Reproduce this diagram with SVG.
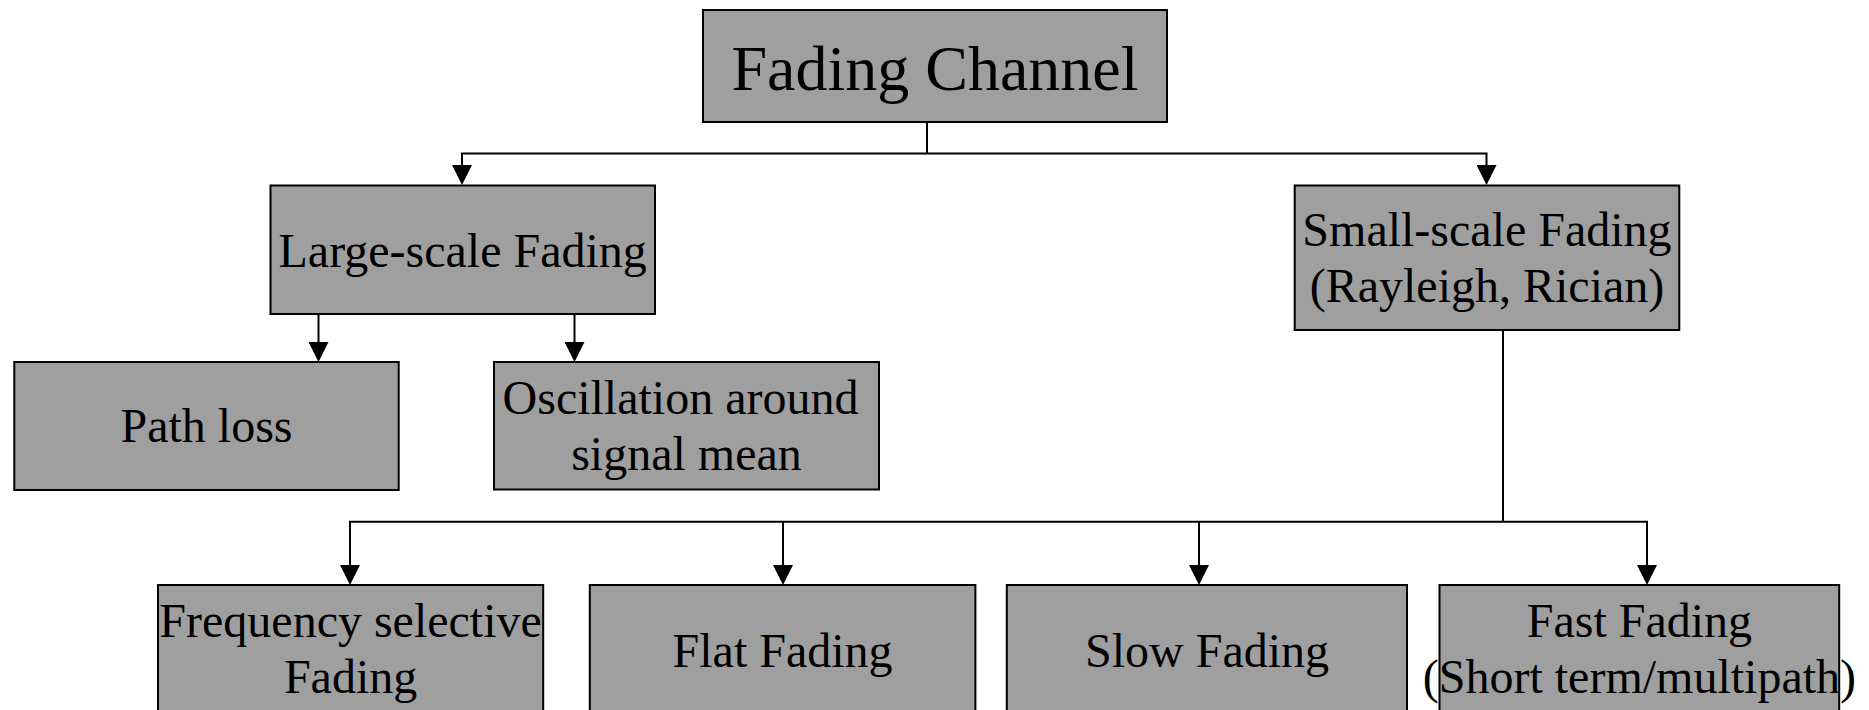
<svg xmlns="http://www.w3.org/2000/svg" width="1869" height="710" viewBox="0 0 1869 710">
  <style>
    .box { fill: #9f9f9f; stroke: #000; stroke-width: 2; }
    .lbl { font-family: "Liberation Serif", "Times New Roman", serif; font-size: 48px; fill: #000; text-anchor: middle; }
    .title { font-size: 64px; }
    .wire { fill: none; stroke: #000; stroke-width: 2; }
  </style>
  <defs>
    <marker id="arrow" viewBox="0 0 20 20" markerWidth="20" markerHeight="20" markerUnits="userSpaceOnUse" refX="0" refY="10" orient="auto">
      <path d="M0,0 L20,10 L0,20 Z" fill="#000"/>
    </marker>
  </defs>
  <rect width="1869" height="710" fill="#fff"/>

  <g id="connectors" class="wire">
    <!-- root to the two fading scales -->
    <path d="M927,122 V153.5"/>
    <path d="M927,153.5 H462 V165" marker-end="url(#arrow)"/>
    <path d="M927,153.5 H1486.5 V165" marker-end="url(#arrow)"/>
    <!-- large-scale branches -->
    <path d="M318.5,314 V342" marker-end="url(#arrow)"/>
    <path d="M574.5,314 V342" marker-end="url(#arrow)"/>
    <!-- small-scale bus -->
    <path d="M1503,330 V521.7"/>
    <path d="M350,565 V521.7 H1647 V565" marker-end="url(#arrow)"/>
    <path d="M350,521.7 V565" marker-end="url(#arrow)"/>
    <path d="M783,521.7 V565" marker-end="url(#arrow)"/>
    <path d="M1199,521.7 V565" marker-end="url(#arrow)"/>
  </g>

  <g id="fading-channel">
    <rect class="box" x="703" y="10" width="464" height="112"/>
    <text class="lbl title" x="935" y="90">Fading Channel</text>
  </g>

  <g id="large-scale">
    <rect class="box" x="270.5" y="185.5" width="384.5" height="128.5"/>
    <text class="lbl" x="462.7" y="266.7">Large-scale Fading</text>
  </g>

  <g id="small-scale">
    <rect class="box" x="1294.7" y="185.5" width="384.6" height="144.5"/>
    <text class="lbl" x="1487" y="246">Small-scale Fading</text>
    <text class="lbl" x="1487" y="302">(Rayleigh, Rician)</text>
  </g>

  <g id="path-loss">
    <rect class="box" x="14.3" y="362" width="384.4" height="128"/>
    <text class="lbl" x="206.5" y="441.7">Path loss</text>
  </g>

  <g id="oscillation">
    <rect class="box" x="494" y="362" width="385" height="127.5"/>
    <text class="lbl" x="680.5" y="413.7">Oscillation around</text>
    <text class="lbl" x="686.5" y="470.3">signal mean</text>
  </g>

  <g id="frequency-selective">
    <rect class="box" x="158" y="585" width="385.2" height="140"/>
    <text class="lbl" x="350.6" y="636.7">Frequency selective</text>
    <text class="lbl" x="350.6" y="693.3">Fading</text>
  </g>

  <g id="flat">
    <rect class="box" x="589.8" y="585" width="385.6" height="140"/>
    <text class="lbl" x="782.6" y="666.7">Flat Fading</text>
  </g>

  <g id="slow">
    <rect class="box" x="1006.8" y="585" width="400.2" height="140"/>
    <text class="lbl" x="1207" y="666.7">Slow Fading</text>
  </g>

  <g id="fast">
    <rect class="box" x="1439.5" y="585" width="399.7" height="140"/>
    <text class="lbl" x="1639.4" y="636.7">Fast Fading</text>
    <text class="lbl" x="1639.4" y="693.3">(Short term/multipath)</text>
  </g>
</svg>
